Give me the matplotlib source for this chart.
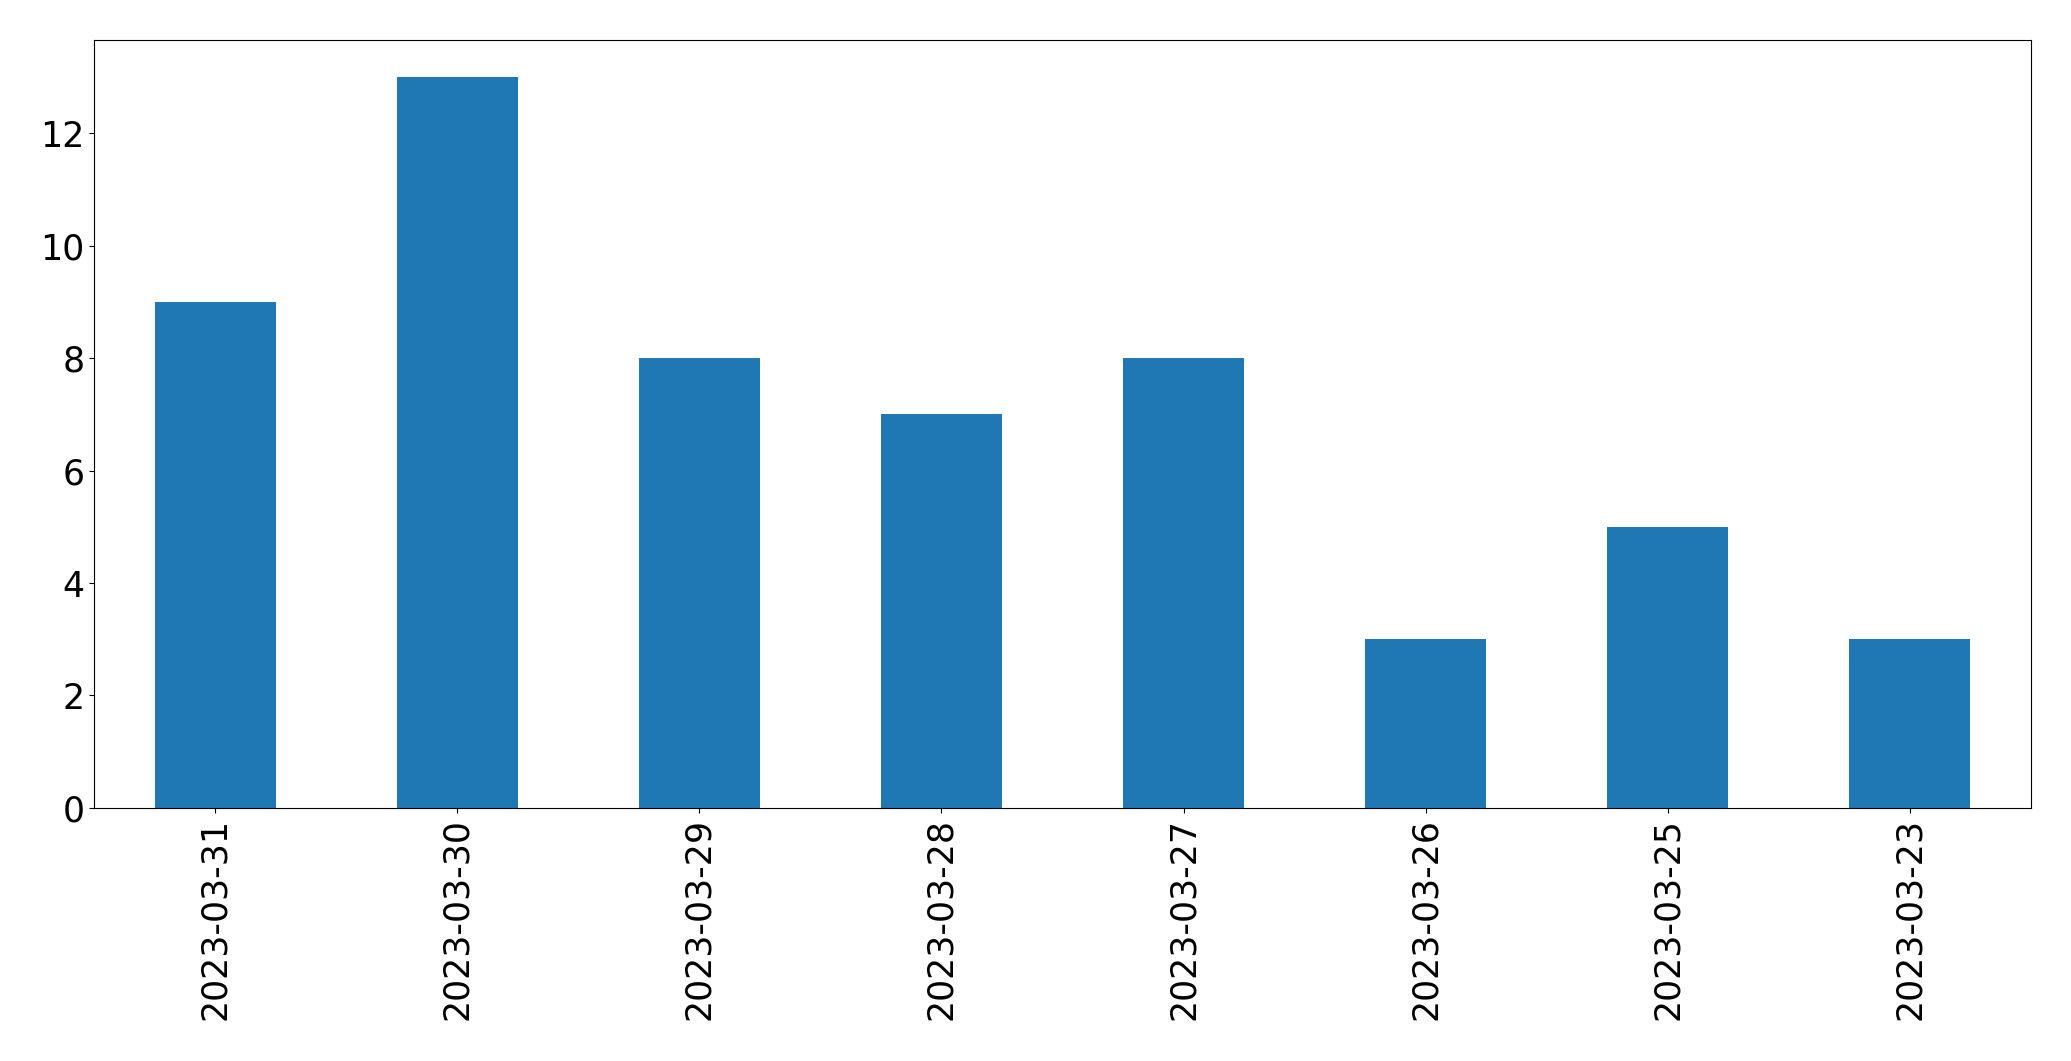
import pandas as pd
import matplotlib.pyplot as plt

dates = ["2023-03-31", "2023-03-30", "2023-03-29", "2023-03-28",
         "2023-03-27", "2023-03-26", "2023-03-25", "2023-03-23"]
counts = [9, 13, 8, 7, 8, 3, 5, 3]

s = pd.Series(counts, index=dates)

fig, ax = plt.subplots(figsize=(20.71, 10.61), dpi=100)
s.plot(kind="bar", ax=ax, color="#1f77b4")
ax.tick_params(axis="both", labelsize=25)
fig.subplots_adjust(left=0.0454, right=0.9807, top=0.962, bottom=0.2385)
fig.savefig("out.png")
plt.close(fig)
